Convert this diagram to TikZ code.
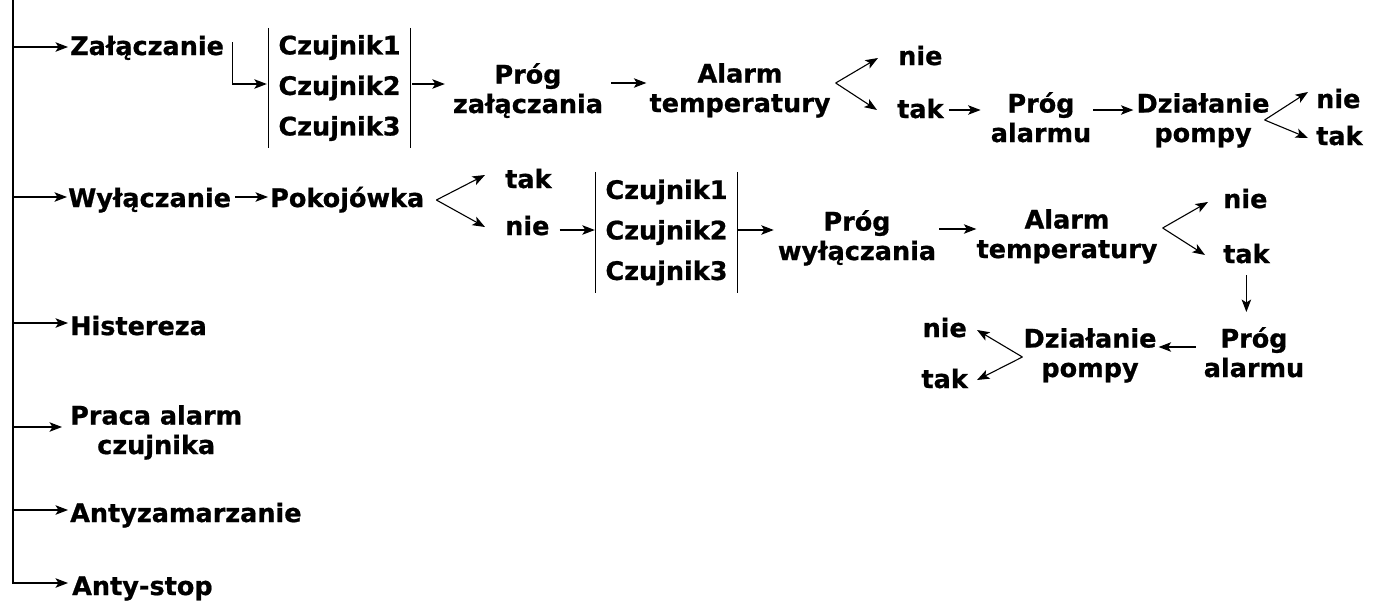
\documentclass[tikz,border=0pt]{standalone}
\usepackage{fontspec}
\setmainfont{DejaVu Sans}[BoldFeatures={FakeBold=0.8}]
\usetikzlibrary{arrows.meta}
\begin{document}
\begin{tikzpicture}[x=1pt,y=-1pt,
  lbl/.style={font=\fontsize{25.5}{29.5}\selectfont\bfseries, inner sep=0pt, align=center},
  sensors/.style={lbl, font=\fontsize{25.5}{40.5}\selectfont\bfseries,
                  minimum width=141pt, minimum height=120pt},
  arr/.style={-{Stealth[length=12.5pt,width=9.5pt,inset=3pt]}, line width=1.1pt},
  ln/.style={line width=1.1pt}]
\useasboundingbox (0,0) rectangle (1375,603);

% main trunk
\coordinate (trunk) at (13,0);

% menu entries (multi-line nodes are placed by the baseline of their last line)
\node[lbl, anchor=base west] (zal)   at (70,55)   {Załączanie};
\node[lbl, anchor=base west] (wyl)   at (68,207)  {Wyłączanie};
\node[lbl, anchor=base west] (hist)  at (70,335)  {Histereza};
\node[lbl, anchor=base west] (praca) at (70,454)  {Praca alarm\\czujnika};
\node[lbl, anchor=base west] (anty)  at (70,522)  {Antyzamarzanie};
\node[lbl, anchor=base west] (stop)  at (72,595)  {Anty-stop};

\draw[arr] ([yshift=8pt]zal.base west -| trunk) -- ([shift={(-2pt,8pt)}]zal.base west);
\draw[arr] ([yshift=10pt]wyl.base west -| trunk) -- ([shift={(-1pt,10pt)}]wyl.base west);
\draw[arr] ([yshift=12pt]hist.base west -| trunk) -- ([shift={(-2pt,12pt)}]hist.base west);
\draw[arr] ([yshift=27pt]praca.base west -| trunk) -- ([shift={(-8pt,27pt)}]praca.base west);
\draw[arr] ([yshift=12pt]anty.base west -| trunk) -- ([shift={(-2pt,12pt)}]anty.base west);
\draw[arr] (trunk) |- ([shift={(-4pt,12pt)}]stop.base west);

% ---- switching on ----
\node[sensors] (box1) at (339.5,88) {Czujnik1\\Czujnik2\\Czujnik3};
\draw[ln] (box1.north west) -- (box1.south west) (box1.north east) -- (box1.south east);
\node[lbl, anchor=base] (prog1)  at (528,113)  {Próg\\załączania};
\node[lbl, anchor=base] (alarm1) at (740,112)  {Alarm\\temperatury};
\node[lbl, anchor=base west] (nie1) at (898,65)  {nie};
\node[lbl, anchor=base west] (tak1) at (897,118) {tak};
\node[lbl, anchor=base] (pa1) at (1041,142) {Próg\\alarmu};
\node[lbl, anchor=base] (dz1) at (1203,142) {Działanie\\pompy};
\node[lbl, anchor=base west] (nie2) at (1316,108) {nie};
\node[lbl, anchor=base west] (tak2) at (1316,145) {tak};

\draw[arr] ([shift={(8pt,13pt)}]zal.base east) |- ([shift={(-2pt,4pt)}]box1.west);
\draw[arr] ([shift={(2pt,4pt)}]box1.east) -- ([shift={(-8pt,29pt)}]prog1.base west);
\draw[arr] ([shift={(8pt,30pt)}]prog1.base east) -- ([shift={(-3pt,29pt)}]alarm1.base west);
\draw[arr] ([shift={(5pt,29pt)}]alarm1.base east) -- ([shift={(-20pt,7pt)}]nie1.base west);
\draw[arr] ([shift={(5pt,29pt)}]alarm1.base east) -- ([shift={(-20pt,8pt)}]tak1.base west);
\draw[arr] ([shift={(5pt,8pt)}]tak1.base east) -- ([shift={(-10pt,32pt)}]pa1.base west);
\draw[arr] ([shift={(2pt,32pt)}]pa1.base east) -- ([shift={(-3pt,32pt)}]dz1.base west);
\draw[arr] ([shift={(-5pt,22pt)}]dz1.base east) -- ([shift={(-8pt,16pt)}]nie2.base west);
\draw[arr] ([shift={(-5pt,22pt)}]dz1.base east) -- ([shift={(-8pt,7pt)}]tak2.base west);

% ---- switching off ----
\node[lbl, anchor=base west] (pok) at (270,207) {Pokojówka};
\node[lbl, anchor=base west] (tak3) at (505,188) {tak};
\node[lbl, anchor=base west] (nie3) at (505,235) {nie};
\node[sensors, minimum height=121pt] (box2) at (666.5,232.5) {Czujnik1\\Czujnik2\\Czujnik3};
\draw[ln] (box2.north west) -- (box2.south west) (box2.north east) -- (box2.south east);
\node[lbl, anchor=base] (pw) at (857,260) {Próg\\wyłączania};
\node[lbl, anchor=base] (alarm2) at (1067,258) {Alarm\\temperatury};
\node[lbl, anchor=base west] (nie4) at (1223,208) {nie};
\node[lbl, anchor=base west] (tak4) at (1223,263) {tak};
\node[lbl, anchor=base] (pa2) at (1254,377) {Próg\\alarmu};
\node[lbl, anchor=base] (dz2) at (1090,377) {Działanie\\pompy};
\node[lbl, anchor=base east] (nie5) at (967,337) {nie};
\node[lbl, anchor=base east] (tak5) at (968,388) {tak};

\draw[arr] ([shift={(4pt,10pt)}]wyl.base east) -- ([shift={(-2pt,10pt)}]pok.base west);
\draw[arr] ([shift={(12pt,7pt)}]pok.base east) -- ([shift={(-20pt,13pt)}]tak3.base west);
\draw[arr] ([shift={(12pt,7pt)}]pok.base east) -- ([shift={(-20pt,8pt)}]nie3.base west);
\draw[arr] ([shift={(10pt,5pt)}]nie3.base east) -- ([shift={(-1pt,2.5pt)}]box2.west);
\draw[arr] ([shift={(1pt,2.5pt)}]box2.east) -- ([shift={(-4pt,30pt)}]pw.base west);
\draw[arr] ([shift={(3pt,31pt)}]pw.base east) -- ([shift={(0pt,29pt)}]alarm2.base west);
\draw[arr] ([shift={(5pt,30pt)}]alarm2.base east) -- ([shift={(-15pt,6pt)}]nie4.base west);
\draw[arr] ([shift={(5pt,30pt)}]alarm2.base east) -- ([shift={(-18pt,8pt)}]tak4.base west);
\draw[arr] ([yshift=-12pt]tak4.base) -- ([yshift=-49pt]tak4.base);
\draw[arr] ([shift={(-8pt,30pt)}]pa2.base west) -- ([shift={(2pt,30pt)}]dz2.base east);
\draw[arr] ([shift={(-1pt,20pt)}]dz2.base west) -- ([shift={(10pt,7pt)}]nie5.base east);
\draw[arr] ([shift={(-1pt,20pt)}]dz2.base west) -- ([shift={(9pt,8pt)}]tak5.base east);
\end{tikzpicture}
\end{document}
